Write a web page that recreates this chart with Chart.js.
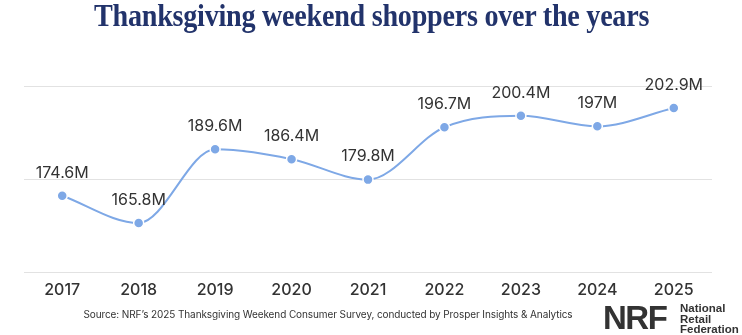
<!DOCTYPE html>
<html>
<head>
<meta charset="utf-8">
<script src="https://cdn.jsdelivr.net/npm/chart.js@4"></script>
<style>
  html, body { margin: 0; padding: 0; background: #fff; }
  #wrap { position: relative; width: 742px; height: 335px; overflow: hidden; }
  #title {
    position: absolute; left: 0; top: -3px; width: 742px; text-align: center;
    font-family: "Liberation Serif", serif; font-weight: bold; font-size: 32px;
    color: #22336b; line-height: 36px; letter-spacing: -0.3px;
    transform: scaleX(0.88); transform-origin: 376px 0;
  }
  #chart { position: absolute; left: 0; top: 0; }
  #source {
    position: absolute; left: 66px; top: 308px; width: 524px; text-align: center;
    font-family: Inter, sans-serif; font-size: 10px; color: #333; white-space: nowrap;
    letter-spacing: -0.1px;
  }
  #logo { position: absolute; left: 603px; top: 301px; }
  #logo .nrf {
    position: absolute; left: 0; top: 0; font-family: "Liberation Sans", sans-serif;
    font-weight: bold; font-size: 33px; line-height: 33px; color: #333; letter-spacing: -1.5px;
  }
  #logo .name {
    position: absolute; left: 77px; top: 2px; font-family: "Liberation Sans", sans-serif;
    font-weight: bold; font-size: 11.5px; line-height: 10.5px; color: #333;
  }
</style>
</head>
<body>
<div id="wrap">
  <canvas id="chart" width="742" height="335"></canvas>
  <div id="title">Thanksgiving weekend shoppers over the years</div>
  <div id="source">Source: NRF’s 2025 Thanksgiving Weekend Consumer Survey, conducted by Prosper Insights &amp; Analytics</div>
  <div id="logo"><div class="nrf">NRF</div><div class="name">National<br>Retail<br>Federation</div></div>
</div>
<script>
const years = ['2017', '2018', '2019', '2020', '2021', '2022', '2023', '2024', '2025'];
const shoppers = [174.6, 165.8, 189.6, 186.4, 179.8, 196.7, 200.4, 197, 202.9];
const yTicks = [150, 180, 210];

// draw value labels above each point
const valueLabels = {
    id: 'valueLabels',
    afterDatasetsDraw(chart) {
        const ctx = chart.ctx;
        const meta = chart.getDatasetMeta(0);
        ctx.save();
        ctx.font = '16px Inter, sans-serif';
        ctx.fillStyle = '#333';
        ctx.textAlign = 'center';
        ctx.textBaseline = 'middle';
        meta.data.forEach((pt, i) => {
            ctx.fillText(shoppers[i] + 'M', pt.x, pt.y - 23);
        });
        ctx.restore();
    }
};

const ctx = document.getElementById('chart').getContext('2d');
new Chart(ctx, {
    type: 'line',
    data: {
        labels: years,
        datasets: [{
            data: shoppers,
            borderColor: '#7ea8e6',
            backgroundColor: '#7ea8e6',
            borderWidth: 2,
            cubicInterpolationMode: 'monotone',
            pointRadius: 5,
            pointBorderColor: '#fff',
            pointBorderWidth: 1.5,
            pointBackgroundColor: '#7ea8e6'
        }]
    },
    plugins: [valueLabels],
    options: {
        responsive: false,
        animation: false,
        layout: { padding: { top: 86, left: 24, right: 30, bottom: 0 } },
        plugins: { legend: { display: false }, tooltip: { enabled: false } },
        scales: {
            x: {
                offset: true,
                grid: { display: false, drawTicks: false },
                border: { display: false },
                ticks: { color: '#333', padding: 9, font: { family: 'Inter', size: 16, weight: '500' } },
                afterFit: s => { s.height = 63; }
            },
            y: {
                min: yTicks[0],
                max: yTicks[yTicks.length - 1],
                afterBuildTicks: s => { s.ticks = yTicks.map(v => ({ value: v })); },
                ticks: { display: false },
                border: { display: false },
                grid: { color: '#e2e2e2', lineWidth: 1, drawTicks: false },
                afterFit: s => { s.width = 0; }
            }
        }
    }
});
</script>
</body>
</html>
